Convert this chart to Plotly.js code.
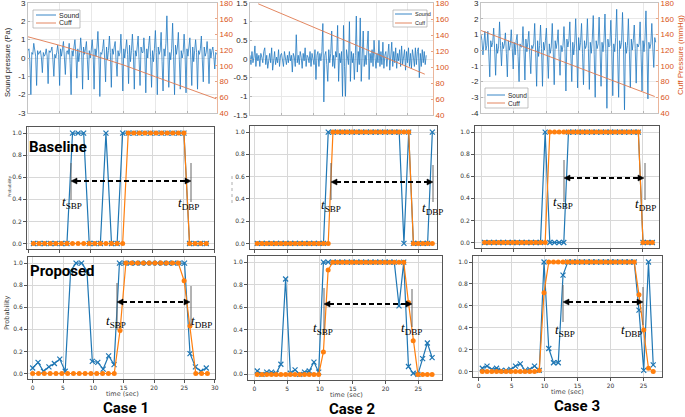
<!DOCTYPE html>
<html><head><meta charset="utf-8">
<script src="https://cdn.plot.ly/plotly-3.0.1.min.js"></script>
<style>html,body{margin:0;padding:0;background:#fff}#chart{width:685px;height:417px}</style>
</head><body><div id="chart"></div>
<script>
// ---------------- DATA ----------------
// Top row: sound pressure (Pa), uniformly sampled, and cuff pressure (mmHg)
const sound1T0 = 0, sound1Dt = 0.15;
const sound1 = [
 0.4,0.5,-0.2,-2.0,0.3,0.2, 0.8,0.3,0.1,-1.5,0.4,0.2, 0.3,0.4,0.0,-0.8,0.3,0.1,
 0.2,0.5,0.1,-1.4,0.4,0.3, 0.4,0.6,-0.1,-1.0,0.2,0.0, 0.3,0.7,0.2,-1.5,0.5,0.1,
 0.5,0.9,0.0,-0.9,0.3,0.4, 0.2,0.8,-0.3,-2.0,0.4,0.1, 0.6,1.0,0.2,-1.1,0.5,-0.2,
 0.3,1.1,0.4,-1.7,0.6,0.2, 0.5,0.9,-0.1,-1.2,0.4,0.0, 0.4,1.0,0.3,-1.7,0.5,0.1,
 0.6,1.45,0.2,-2.1,0.3,0.2, 0.5,1.0,0.0,-1.3,0.6,-0.1, 0.4,1.2,0.3,-1.6,0.5,0.2,
 0.6,0.9,-0.2,-1.0,0.4,0.1, 0.3,1.3,0.1,-1.8,0.5,0.0, 0.5,1.0,0.2,-1.4,0.7,-0.2,
 0.4,1.3,0.3,-1.7,0.4,0.1, 0.6,1.2,-0.1,-1.5,0.6,0.3, 0.3,1.1,0.2,-1.9,0.5,0.0,
 0.7,1.2,0.1,-1.6,0.4,-0.2, 0.5,1.5,0.3,-2.0,0.6,0.2, 0.4,1.4,-0.2,-1.8,0.5,0.1,
 0.8,2.3,0.4,-1.6,0.3,-0.1, 0.5,1.9,0.1,-2.0,0.7,0.2, 0.6,1.4,-0.1,-1.7,0.4,0.0,
 0.3,1.3,0.2,-1.9,0.5,0.1, 0.6,1.1,0.0,-1.5,0.6,-0.2, 0.4,1.0,0.3,-1.7,0.4,0.2,
 0.5,1.2,-0.1,-1.3,0.6,0.1, 0.3,0.9,0.2,-1.4,0.5,0.0, 0.4,0.6,0.1,-0.6,0.3,0.2
];
const cuff1T = [0, 5, 10, 15, 20, 25, 29.5];
const cuff1  = [137, 126, 114, 101, 86, 71, 58];

const sound2T0 = 0, sound2Dt = 0.156;
const sound2 = [
 0.1,-0.15,0.2,-0.1,0.05,0.35,-0.2,0.15,-0.05,0.1,
 -0.2,0.15,0.05,-0.1,0.2,0.3,-0.15,0.1,-0.25,0.05,
 0.15,-0.1,0.3,-0.3,0.1,0.2,-0.15,0.05,-0.1,0.25,
 -0.2,0.1,0.15,-0.05,-0.2,0.2,0.05,-0.15,0.1,-0.1,
 0.2,-0.05,0.1,-0.35,0.15,0.05,-0.2,0.65,-0.1,0.1,
 -0.15,0.2,0.05,-0.25,0.15,-0.05,0.3,-0.2,0.1,0.05,
 -0.1,0.2,-0.2,0.15,0.0,-0.15,0.25,-0.55,0.1,0.2,
 -0.2,0.15,-0.05,0.2,0.95,-1.15,0.1,0.2,-0.15,-0.6,
 0.25,-0.1,0.15,0.75,-0.2,0.1,-0.25,0.2,0.05,0.9,
 -0.6,0.15,-0.1,0.2,-1.0,0.9,-0.2,-1.0,0.25,0.1,
 -0.15,1.0,-0.6,0.2,-0.1,0.15,-0.55,0.1,1.15,-0.35,
 0.2,-0.15,1.1,-0.6,0.15,0.75,-0.2,0.1,-0.15,0.2,
 0.75,-0.55,0.15,-0.1,0.25,-0.2,0.5,0.05,-0.25,0.15,
 -0.1,0.5,-0.2,0.2,-0.15,0.45,-0.25,0.1,0.2,-0.2,
 0.15,0.4,-0.3,0.1,0.45,-0.2,0.2,-0.1,0.3,-0.25,
 0.15,-0.05,0.25,-0.2,0.35,-0.15,0.1,0.25,-0.3,0.2,
 -0.1,0.3,-0.2,0.15,-0.25,0.25,0.05,-0.2,0.3,-0.15,
 0.2,0.3,-0.5,0.15,-0.2,0.25,-0.1,0.2,-0.15,0.1
];
const cuff2T = [1.3, 10, 15, 20, 25, 27.7];
const cuff2  = [179, 150, 133, 117, 100, 91];

const sound3T0 = 0, sound3Dt = 0.15;
const sound3 = [
 1.0,0.6,-0.3,0.5,1.2,0.0, 0.3,1.2,-0.4,-1.7,0.6,0.2, 0.5,1.4,0.0,-1.6,0.4,-0.2,
 0.2,1.8,0.3,-1.0,0.5,0.1, 0.4,1.1,-0.2,-1.7,0.6,0.0, 0.3,1.3,0.1,-1.2,0.5,-0.3,
 0.6,1.0,-0.4,-2.0,0.4,0.2, 0.2,1.5,0.0,-1.9,0.7,-0.1, 0.5,1.2,-0.3,-1.5,0.3,0.1,
 0.4,1.7,-0.2,-2.3,0.6,-0.4, 0.3,1.6,0.1,-2.3,0.5,0.0, 0.6,1.4,-0.3,-1.8,0.4,-0.2,
 0.2,1.7,0.0,-2.2,0.6,0.1, 0.5,1.3,-0.4,-1.6,0.3,-0.1, 0.3,1.5,0.1,-2.6,0.7,0.2,
 0.6,1.8,-0.2,-2.0,0.5,-0.3, 0.4,2.0,0.2,-2.4,0.8,0.0, 0.5,1.7,-0.2,-2.2,0.6,0.1,
 0.3,2.0,0.1,-2.5,0.5,-0.2, 0.7,2.2,-0.3,-3.0,0.6,0.1, 0.4,2.1,0.0,-2.3,0.5,-0.1,
 0.6,2.3,-0.2,-3.7,0.7,0.2, 0.3,1.9,0.1,-2.9,0.4,-0.1, 0.8,2.6,-0.3,-3.0,0.6,0.1,
 0.5,2.4,0.2,-3.8,0.5,-0.2, 0.3,2.0,-0.1,-2.4,0.7,0.0, 0.6,1.6,0.1,-2.1,0.4,0.2,
 0.4,1.8,-0.3,-2.6,0.6,-0.1, 0.7,2.5,0.0,-3.1,0.5,0.1, 0.4,1.7,0.2,-1.1,0.8,0.5
];
const cuff3T = [0, 5, 10, 15, 20, 26.7];
const cuff3  = [145, 129, 114, 98, 82, 61];

// Probability panels (time in sec)
const timeBase1 = [0.85,1.75,2.65,3.55,4.45,5.35,6.25,7.15,8.05,8.95,9.85,10.75,11.65,12.55,13.45,14.35,15.25,16.15,17.05,17.95,18.85,19.75,20.65,21.55,22.45,23.35,24.25,25.15,26.05,26.95,27.85,28.75];
const base1Blue   = [0,0,0,0,0,0,0,1,1,1,0,0,0,1,0,0,1,1,1,1,1,1,1,1,1,1,1,1,0,0,0,0];
const base1Orange = [0,0,0,0,0,0,0,0,0,0,0,0,0,0,0,0,0,1,1,1,1,1,1,1,1,1,1,1,0,0,0,0];

const timeProp1Blue = [0,0.89,1.79,2.68,3.58,4.47,5.36,6.26,7.15,8.05,8.94,9.83,10.73,11.62,12.52,13.41,14.3,15.2,16.09,16.99,17.88,18.77,19.67,20.56,21.46,22.35,23.24,24.14,25.03,25.93,26.82,27.72,28.61];
const prop1Blue = [0.05,0.10,0.02,0.06,0.09,0.13,0.02,0.93,1.0,1.0,0.93,0.11,0.10,0.04,0.16,0.08,1,1,1,1,1,1,1,1,1,1,1,1,1,0.18,0.06,0.02,0.05];
const timeProp1Orange = [0,0.96,1.92,2.88,3.84,4.8,5.76,6.72,7.68,8.64,9.6,10.56,11.52,12.48,13.44,14.4,15.36,16.32,17.28,18.24,19.2,20.16,21.12,22.08,23.04,24,24.96,25.92,26.88,27.84,28.8];
const prop1Orange = [0,0,0,0,0,0,0,0,0,0,0,0,0,0,0,0.39,1,1,1,1,1,1,1,1,1,1,0.84,0.43,0,0,0];

const time2 = [0.45,1.17,1.89,2.61,3.33,4.05,4.77,5.49,6.21,6.93,7.65,8.37,9.09,9.81,10.53,11.25,11.97,12.69,13.41,14.13,14.85,15.57,16.29,17.01,17.73,18.45,19.17,19.89,20.61,21.33,22.05,22.77,23.49,24.21,24.93,25.65,26.37,27.09];
const base2Blue   = [0,0,0,0,0,0,0,0,0,0,0,0,0,0,0,1,1,1,1,1,1,1,1,1,1,1,1,1,1,1,1,0,1,0,0,0,0,1];
const base2Orange = [0,0,0,0,0,0,0,0,0,0,0,0,0,0,0,0,1,1,1,1,1,1,1,1,1,1,1,1,1,1,1,1,1,0,0,0,0,0];
const prop2Blue   = [0.03,0.0,0.02,0.02,0.01,0.09,0.85,0.01,0.04,0.0,0.02,0.03,0.11,0.02,1,1,1,1,1,1,1,1,1,1,1,1,1,1,1,1,0.61,1.0,0.07,0.01,0.0,0.14,0.28,0.15];
const prop2Orange = [0,0,0,0,0,0,0,0,0,0,0,0,0,0,0.2,0.93,1,1,1,1,1,1,1,1,1,1,1,1,1,1,1,1,0.64,0.3,0,0,0,0];

const time3 = [0.55,1.27,1.99,2.71,3.43,4.15,4.87,5.59,6.31,7.03,7.75,8.47,9.19,9.91,10.63,11.35,12.07,12.79,13.51,14.23,14.95,15.67,16.39,17.11,17.83,18.55,19.27,19.99,20.71,21.43,22.15,22.87,23.59,24.31,25.03,25.75,26.47];
const base3Blue   = [0,0,0,0,0,0,0,0,0,0,0,0,0,1,0,0,0,0,1,1,1,1,1,1,1,1,1,1,1,1,1,1,1,1,0,0,0];
const base3Orange = [0,0,0,0,0,0,0,0,0,0,0,0,0,0,1,1,1,1,1,1,1,1,1,1,1,1,1,1,1,1,1,1,1,1,0,0,0];
const prop3Blue   = [0.03,0.05,0.02,0.03,0.01,0.01,0.02,0.05,0.07,0.01,0.02,0.05,0.01,1.0,0.21,0.08,0.08,0.88,1,1,1,1,1,1,1,1,1,1,1,1,1,1,1,0.56,0.01,1.0,0.06];
const prop3Orange = [0,0,0,0,0,0,0,0,0,0,0,0,0.01,0.72,1,1,1,1,1,1,1,1,1,1,1,1,1,1,1,1,1,1,1,0.7,0.38,0.03,0.0];

// Tick labels
const probTickVals = [0,0.2,0.4,0.6,0.8,1.0];
const probTickText = ['0.0','0.2','0.4','0.6','0.8','1.0'];
const snd1Ticks = [-3,-2,-1,0,1,2,3];
const snd1Text  = ['-3','-2','-1','0','1','2','3'];
const snd2Ticks = [-1.5,-1,-0.5,0,0.5,1,1.5];
const snd2Text  = ['-1.5','-1','-0.5','0','0.5','1','1.5'];
const snd3Ticks = [-4,-3,-2,-1,0,1,2,3];
const snd3Text  = ['-4','-3','-2','-1','0','1','2','3'];
const cuffTicks = [40,60,80,100,120,140,160,180];
const caseLabels = ['Case 1','Case 2','Case 3'];

// ---------------- STYLE / LAYOUT ----------------
const W = 685, H = 417;
const PX = x => x / W, PY = y => 1 - y / H;
const dX = (a, b) => [a / W, b / W];
const dY = (a, b) => [1 - b / H, 1 - a / H];

const SND = '#2178c0', CUF = '#E0794F', MORANGE = '#D95319';
const BLUE = '#1f77b4', ORANGE = '#ff7f0e';

const traces = [];
function sig(y, t0, dt, xa, ya) {
  traces.push({type:'scatter', mode:'lines', y:y, x0:t0, dx:dt, xaxis:xa, yaxis:ya,
    line:{color:SND, width:0.8}, hoverinfo:'skip', showlegend:false});
}
function cuffLine(x, y, xa, ya) {
  traces.push({type:'scatter', mode:'lines', x:x, y:y, xaxis:xa, yaxis:ya,
    line:{color:CUF, width:0.9}, hoverinfo:'skip', showlegend:false});
}
function prob(xb, yb, xo, yo, xa, ya) {
  traces.push({type:'scatter', mode:'lines+markers', x:xb, y:yb, xaxis:xa, yaxis:ya,
    line:{color:BLUE, width:1.2}, marker:{symbol:'x-thin', size:5, color:BLUE, line:{color:BLUE, width:1.2}},
    hoverinfo:'skip', showlegend:false});
  traces.push({type:'scatter', mode:'lines+markers', x:xo, y:yo, xaxis:xa, yaxis:ya,
    line:{color:ORANGE, width:1.2}, marker:{symbol:'circle', size:5, color:ORANGE},
    hoverinfo:'skip', showlegend:false});
}

sig(sound1, sound1T0, sound1Dt, 'x', 'y');   cuffLine(cuff1T, cuff1, 'x', 'y2');
sig(sound2, sound2T0, sound2Dt, 'x2', 'y3'); cuffLine(cuff2T, cuff2, 'x2', 'y4');
sig(sound3, sound3T0, sound3Dt, 'x3', 'y5'); cuffLine(cuff3T, cuff3, 'x3', 'y6');
prob(timeBase1, base1Blue, timeBase1, base1Orange, 'x4', 'y7');
prob(time2, base2Blue, time2, base2Orange, 'x5', 'y8');
prob(time3, base3Blue, time3, base3Orange, 'x6', 'y9');
prob(timeProp1Blue, prop1Blue, timeProp1Orange, prop1Orange, 'x7', 'y10');
prob(time2, prop2Blue, time2, prop2Orange, 'x8', 'y11');
prob(time3, prop3Blue, time3, prop3Orange, 'x9', 'y12');

const topX = (dom, anchor, rng) => ({domain:dom, anchor:anchor, range:rng, dtick:5, tick0:0,
  showticklabels:false, ticks:'inside', ticklen:2, tickcolor:'#b5b5b5', showgrid:true, gridcolor:'#e8e8e8',
  showline:true, linecolor:'#c4c4c4', linewidth:1, mirror:true, zeroline:false, automargin:false});
const topYL = (dom, anchor, rng, tv, tt) => ({domain:dom, anchor:anchor, range:rng, tickmode:'array', tickvals:tv, ticktext:tt,
  tickfont:{family:'Liberation Sans, Arial, sans-serif', size:8, color:'#262626'}, ticks:'inside', ticklen:2, tickcolor:'#b5b5b5',
  ticklabeloverflow:'allow',
  showgrid:true, gridcolor:'#e8e8e8', showline:true, linecolor:'#c4c4c4', linewidth:1, zeroline:false, automargin:false});
const topYR = (over, anchor) => ({overlaying:over, anchor:anchor, side:'right', range:[40,180], tickmode:'array', tickvals:cuffTicks,
  tickfont:{family:'Liberation Sans, Arial, sans-serif', size:8, color:MORANGE}, ticks:'inside', ticklen:2, tickcolor:'#E8A383',
  ticklabeloverflow:'allow',
  showgrid:false, showline:true, linecolor:'#EBB59B', linewidth:1, zeroline:false, automargin:false});
const prX = (dom, anchor, rng, labels) => ({domain:dom, anchor:anchor, range:rng, dtick:5, tick0:0, showticklabels:labels,
  tickfont:{family:'DejaVu Sans, sans-serif', size:6, color:'#333'}, ticks:'outside', ticklen:3, tickcolor:'#555',
  ticklabeloverflow:'allow',
  showgrid:true, gridcolor:'#d8d8d8', gridwidth:1, showline:true, linecolor:'#555', linewidth:1, mirror:true,
  zeroline:false, automargin:false});
const prY = (dom, anchor) => ({domain:dom, anchor:anchor, range:[-0.05,1.055], tickmode:'array', tickvals:probTickVals, ticktext:probTickText,
  tickfont:{family:'DejaVu Sans, sans-serif', size:6, color:'#333'}, ticks:'outside', ticklen:3, tickcolor:'#555',
  ticklabeloverflow:'allow',
  showgrid:true, gridcolor:'#d8d8d8', gridwidth:1, showline:true, linecolor:'#555', linewidth:1, mirror:true,
  zeroline:false, automargin:false});

const layout = {
  width:W, height:H, margin:{l:0,r:0,t:0,b:0}, paper_bgcolor:'#fff', plot_bgcolor:'#fff', showlegend:false,
  xaxis: topX(dX(28,217),'y',[0,29.6]),
  yaxis: topYL(dY(3,113),'x',[-3,3],snd1Ticks,snd1Text),
  yaxis2: topYR('y','x'),
  xaxis2: topX(dX(250,433),'y3',[0,29]),
  yaxis3: topYL(dY(3,115),'x2',[-1.5,1.5],snd2Ticks,snd2Text),
  yaxis4: topYR('y3','x2'),
  xaxis3: topX(dX(481,658),'y5',[0,27.2]),
  yaxis5: topYL(dY(3,113),'x3',[-4,3],snd3Ticks,snd3Text),
  yaxis6: topYR('y5','x3'),
  xaxis4: prX(dX(27,214),'y7',[-0.2,30.0],false),
  yaxis7: prY(dY(127,249),'x4'),
  xaxis5: prX(dX(250,437),'y8',[-0.65,27.8],false),
  yaxis8: prY(dY(126,249),'x5'),
  xaxis6: prX(dX(475,659),'y9',[-0.93,27.5],false),
  yaxis9: prY(dY(126,248),'x6'),
  xaxis7: prX(dX(28,215),'y10',[-0.77,30.05],true),
  yaxis10: prY(dY(257,379),'x7'),
  xaxis8: prX(dX(248,442),'y11',[-0.96,28.6],true),
  yaxis11: prY(dY(256,380),'x8'),
  xaxis9: prX(dX(473,662),'y12',[-0.86,27.8],true),
  yaxis12: prY(dY(256,377),'x9'),
  shapes:[], annotations:[]
};

// decorations in pixel coordinates
const S = layout.shapes, A = layout.annotations;
function pline(x0,y0,x1,y1,color,width,dash){ S.push({type:'line',xref:'paper',yref:'paper',x0:PX(x0),y0:PY(y0),x1:PX(x1),y1:PY(y1),line:{color:color,width:width,dash:dash||'solid'},layer:'above'}); }
function tri(pts){ S.push({type:'path',xref:'paper',yref:'paper',path:'M'+pts.map(p=>PX(p[0])+','+PY(p[1])).join(' L')+' Z',fillcolor:'#000',line:{color:'#000',width:0.5},layer:'above'}); }
function arrow(x0,x1,y){
  pline(x0+5,y,x1-5,y,'#000',2,'5px,3px');
  tri([[x0,y],[x0+6,y-3],[x0+6,y+3]]);
  tri([[x1,y],[x1-6,y-3],[x1-6,y+3]]);
}
function txt(x,y,text,font,opts){ A.push(Object.assign({xref:'paper',yref:'paper',x:PX(x),y:PY(y),text:text,showarrow:false,font:font,xanchor:'center',yanchor:'middle'},opts||{})); }

const serif = {family:'Liberation Serif, DejaVu Serif, serif', size:13, color:'#000'};
const tS = '<i>t</i><sub>SBP</sub>', tD = '<i>t</i><sub>DBP</sub>';
// [arrow x0, x1, y, vline-left(x, y0, y1), vline-right(x,y0,y1), SBP label (x,y), DBP label (x,y)]
const marks = [
  [71,191,181, [71,163,200],[191,163,202], [72,202],[188,203]],
  [331,433,182,[331,163,200],[433,165,202],[331,205],[432,208]],
  [564,644,178,[564,160,202],[645,163,200],[563,202],[645,204]],
  [117,190,302,[117,283,330],[191,286,326],[116,321],[201,321]],
  [324,412,304,[324,288,335],[412,289,327],[323,328],[411,328]],
  [563,643,302,[563,285,322],[643,287,325],[565,330],[631,330]]
];
marks.forEach(m=>{
  pline(m[3][0],m[3][1],m[3][0],m[3][2],'#666',1);
  pline(m[4][0],m[4][1],m[4][0],m[4][2],'#666',1);
  arrow(m[0],m[1],m[2]);
  txt(m[5][0],m[5][1],tS,serif);
  txt(m[6][0],m[6][1],tD,serif);
});

// legends of the top panels (drawn by hand)
function legend(x0,y0,x1,y1,lx0,lx1,ys,yc,tx,fs){
  S.push({type:'rect',xref:'paper',yref:'paper',x0:PX(x0),y0:PY(y0),x1:PX(x1),y1:PY(y1),fillcolor:'#fff',line:{color:'#a6a6a6',width:0.7},layer:'above'});
  pline(lx0,ys,lx1,ys,SND,0.9); pline(lx0,yc,lx1,yc,CUF,0.9);
  const f={family:'Liberation Sans, Arial, sans-serif',size:fs,color:'#262626'};
  txt(tx,ys,'Sound',f,{xanchor:'left'}); txt(tx,yc,'Cuff',f,{xanchor:'left'});
}
legend(33,10,80,28, 36,56,15,23,57,7);
legend(393,10,427,27, 395,412,14,23,413,5.5);
legend(485,88,528,108, 487,505,95,103,506,6.5);

// axis titles and labels
txt(8,62,'Sound pressure (Pa)',{family:'Liberation Sans, Arial, sans-serif',size:7.5,color:'#262626'},{textangle:-90});
txt(680,55,'Cuff Pressure (mmHg)',{family:'Liberation Sans, Arial, sans-serif',size:8,color:MORANGE},{textangle:-90});
txt(9,186,'Probability',{family:'DejaVu Sans, sans-serif',size:4,color:'#444'},{textangle:-90});
txt(7,313,'Probability',{family:'DejaVu Sans, sans-serif',size:6.5,color:'#444'},{textangle:-90});
pline(232,176,232,203,'#999',0.8,'dot');
const tf={family:'DejaVu Sans, sans-serif',size:6.5,color:'#444'};
txt(122,394,'time (sec)',tf); txt(346,395,'time (sec)',tf); txt(567,392,'time (sec)',tf);
const bold={family:'Roboto, Noto Sans, sans-serif',size:15,color:'#000',weight:700};
txt(58,147,'<b>Baseline</b>',bold,{});
txt(62,271,'<b>Proposed</b>',bold,{});
const cf={family:'Roboto, Noto Sans, sans-serif',size:15,color:'#000'};
txt(126,408,'<b>'+caseLabels[0]+'</b>',cf); txt(352,409,'<b>'+caseLabels[1]+'</b>',cf); txt(577,406,'<b>'+caseLabels[2]+'</b>',cf);

Plotly.newPlot('chart', traces, layout, {staticPlot:true, displayModeBar:false});
</script>
</body></html>
